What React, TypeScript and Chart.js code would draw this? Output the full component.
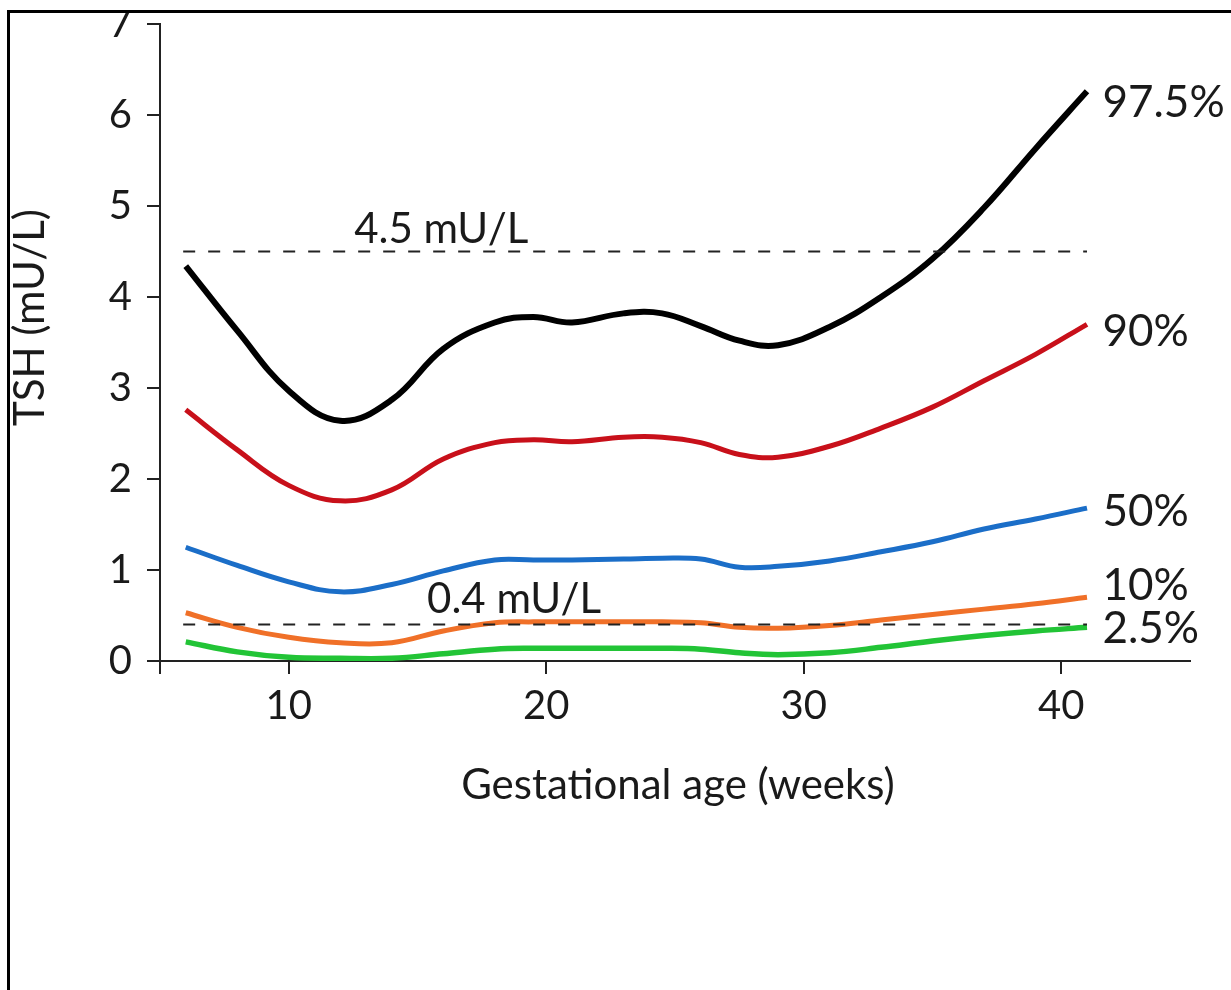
import React, { useEffect, useRef } from "react";
import { Chart, registerables } from "chart.js";

Chart.register(...registerables);

// ---- data ----
const weeks = [6, 8, 10, 12, 14, 16, 18, 19.5, 21, 23, 24.5, 26, 27.5, 29, 31, 33, 35, 37, 39, 41];
const p975 = [4.34, 3.63, 2.97, 2.64, 2.87, 3.43, 3.72, 3.78, 3.72, 3.82, 3.82, 3.68, 3.52, 3.47, 3.67, 4.0, 4.42, 4.98, 5.63, 6.26];
const p90 = [2.76, 2.32, 1.93, 1.76, 1.88, 2.22, 2.4, 2.43, 2.41, 2.46, 2.46, 2.4, 2.27, 2.24, 2.36, 2.56, 2.79, 3.08, 3.37, 3.7];
const p50 = [1.25, 1.05, 0.87, 0.76, 0.84, 0.99, 1.11, 1.11, 1.11, 1.12, 1.13, 1.12, 1.03, 1.04, 1.1, 1.2, 1.31, 1.45, 1.56, 1.68];
const p10 = [0.53, 0.37, 0.26, 0.2, 0.2, 0.33, 0.42, 0.43, 0.43, 0.43, 0.43, 0.42, 0.37, 0.36, 0.39, 0.45, 0.51, 0.57, 0.63, 0.7];
const p25 = [0.21, 0.1, 0.04, 0.03, 0.03, 0.08, 0.13, 0.14, 0.14, 0.14, 0.14, 0.13, 0.09, 0.07, 0.09, 0.15, 0.22, 0.28, 0.33, 0.37];

const seriesLabels = ["97.5%", "90%", "50%", "10%", "2.5%"];
const seriesLabelY = [5.98, 3.46, 1.48, 0.67, 0.2];
const seriesLabelX = 41.6;

const refValues = [4.5, 0.4];
const refLabels = ["4.5 mU/L", "0.4 mU/L"];
const refLabelPos = [
  [12.54, 4.59],
  [15.37, 0.527],
];
const refStart = 5.9;
const refEnd = 41.0;

const xTicks = [5, 10, 20, 30, 40];
const xTitle = "Gestational age (weeks)";
const yTitle = "TSH (mU/L)";

const FONT = "Lato, 'Open Sans', sans-serif";

export default function App() {
  const ref = useRef<HTMLCanvasElement | null>(null);

  useEffect(() => {
    if (!ref.current) return;
    const mk = (ys: number[]) => weeks.map((w, i) => ({ x: w, y: ys[i] }));
    const colors = ["#000000", "#c8101a", "#1b6ec8", "#f07028", "#22c436"];
    const series = [p975, p90, p50, p10, p25];
    const widths = [6, 5, 5, 5, 5.5];

    const lineSets: any[] = series.map((s, i) => ({
      label: seriesLabels[i],
      data: mk(s),
      borderColor: colors[i],
      borderWidth: widths[i],
      pointRadius: 0,
      fill: false,
      tension: 0.4,
      borderCapStyle: "butt",
      borderJoinStyle: "round",
    }));
    const refSets: any[] = refValues.map((v, i) => ({
      label: refLabels[i],
      data: [
        { x: refStart, y: v },
        { x: refEnd, y: v },
      ],
      borderColor: "#222222",
      borderWidth: 2,
      borderDash: [12, 13],
      pointRadius: 0,
      fill: false,
    }));

    const textPlugin = {
      id: "texts",
      afterDatasetsDraw(chart: any) {
        const { ctx, chartArea, scales } = chart;
        const xs = scales.x;
        const ys = scales.y;
        ctx.save();
        ctx.fillStyle = "#1a1a1a";
        ctx.textBaseline = "alphabetic";
        ctx.textAlign = "left";
        ctx.font = `44px ${FONT}`;
        seriesLabels.forEach((t, i) => {
          ctx.fillText(t, xs.getPixelForValue(seriesLabelX), ys.getPixelForValue(seriesLabelY[i]));
        });
        ctx.font = `42px ${FONT}`;
        refLabels.forEach((t, i) => {
          ctx.fillText(t, xs.getPixelForValue(refLabelPos[i][0]), ys.getPixelForValue(refLabelPos[i][1]));
        });
        // axis titles
        ctx.textAlign = "center";
        ctx.textBaseline = "middle";
        ctx.font = `42px ${FONT}`;
        ctx.fillText(xTitle, (chartArea.left + chartArea.right) / 2 + 3, chartArea.bottom + 124);
        ctx.save();
        ctx.translate(20, (chartArea.top + chartArea.bottom) / 2 - 25);
        ctx.rotate(-Math.PI / 2);
        ctx.font = `42px ${FONT}`;
        ctx.fillText(yTitle, 0, 0);
        ctx.restore();
        ctx.restore();
      },
    };

    const chart = new Chart(ref.current, {
      type: "line",
      data: { datasets: [...refSets, ...lineSets] },
      options: {
        animation: false,
        responsive: false,
        maintainAspectRatio: false,
        layout: { padding: { top: 11, right: 41, bottom: 0, left: 0 } },
        plugins: { legend: { display: false }, tooltip: { enabled: false } },
        scales: {
          x: {
            type: "linear",
            min: 5,
            max: 45,
            afterBuildTicks: (axis: any) => {
              axis.ticks = xTicks.map((v) => ({ value: v }));
            },
            afterFit: (s: any) => {
              s.height = 329;
              s.paddingLeft = 0;
              s.paddingRight = 0;
            },
            ticks: {
              color: "#1a1a1a",
              font: { family: FONT, size: 40 },
              padding: 8,
              maxRotation: 0,
              autoSkip: false,
              callback: (v: any) => (v === 5 ? "" : String(v)),
            },
            grid: { drawOnChartArea: false, drawTicks: true, tickLength: 13, color: "#222", lineWidth: 2 },
            border: { display: true, color: "#222", width: 2 },
          },
          y: {
            type: "linear",
            min: 0,
            max: 7,
            afterFit: (s: any) => {
              s.width = 150;
              s.paddingTop = 0;
              s.paddingBottom = 0;
            },
            ticks: {
              stepSize: 1,
              color: "#1a1a1a",
              font: { family: FONT, size: 40 },
              padding: 15,
            },
            grid: { drawOnChartArea: false, drawTicks: true, tickLength: 13, color: "#222", lineWidth: 2 },
            border: { display: true, color: "#222", width: 2 },
          },
        },
      },
      plugins: [textPlugin],
    });
    return () => chart.destroy();
  }, []);

  return (
    <div
      style={{
        position: "absolute",
        left: 7,
        top: 10,
        width: 1224,
        height: 980,
        borderTop: "3px solid #000",
        borderLeft: "3px solid #000",
        boxSizing: "border-box",
        overflow: "hidden",
        background: "#fff",
      }}
    >
      <canvas ref={ref} width={1221} height={977} style={{ display: "block", width: 1221, height: 977 }} />
    </div>
  );
}
